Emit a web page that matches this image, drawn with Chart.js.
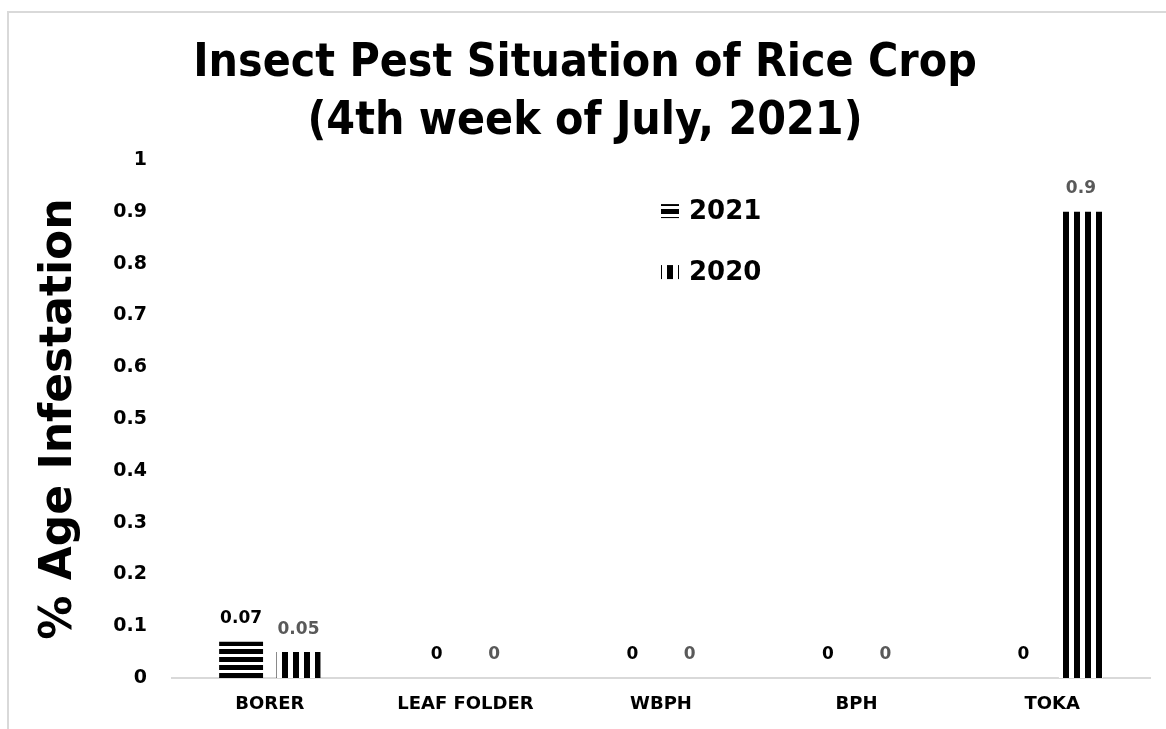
<!DOCTYPE html>
<html>
<head>
<meta charset="utf-8">
<script src="https://cdn.jsdelivr.net/npm/chart.js@4"></script>
<style>
  body { margin: 0; background: #fff; }
  #frame {
    position: absolute; left: 7px; top: 11px; width: 1300px; height: 900px;
    border-left: 2px solid #d9d9d9; border-top: 2px solid #d9d9d9;
  }
  #chart { position: absolute; left: 0; top: 0; }
</style>
</head>
<body>
<div id="frame"></div>
<canvas id="chart" width="1166" height="729"></canvas>
<script>
const categories = ["BORER", "LEAF FOLDER", "WBPH", "BPH", "TOKA"];
const seriesNames = ["2021", "2020"];
const values2021 = [0.07, 0, 0, 0, 0];
const values2020 = [0.05, 0, 0, 0, 0.9];
const labelColors = ["#000000", "#595959"];

// stripe fills like the excel patterns
function makePattern(horizontal) {
  const c = document.createElement("canvas");
  const ctx = c.getContext("2d");
  if (horizontal) {
    c.width = 8; c.height = 8;
    ctx.fillStyle = "#fff";
    ctx.fillRect(0, 0, 8, 8);
    ctx.fillStyle = "#000";
    ctx.fillRect(0, 1, 8, 5);
  } else {
    c.width = 11; c.height = 11;
    ctx.fillStyle = "#fff";
    ctx.fillRect(0, 0, 11, 11);
    ctx.fillStyle = "#000";
    ctx.fillRect(7, 0, 4, 11);
    ctx.fillRect(0, 0, 2, 11);
  }
  return ctx.createPattern(c, "repeat");
}
const hStripes = makePattern(true);
const vStripes = makePattern(false);
const fills = [hStripes, vStripes];

const valueLabels = {
  id: "valueLabels",
  afterDatasetsDraw(chart) {
    const ctx = chart.ctx;
    ctx.save();
    ctx.font = "bold 17px 'DejaVu Sans'";
    ctx.textAlign = "center";
    ctx.textBaseline = "middle";
    chart.data.datasets.forEach((ds, i) => {
      const meta = chart.getDatasetMeta(i);
      ctx.fillStyle = labelColors[i];
      meta.data.forEach((bar, j) => {
        ctx.fillText(String(ds.data[j]), bar.x, bar.y - 23);
      });
    });
    ctx.restore();
  }
};

const innerLegend = {
  id: "innerLegend",
  afterDraw(chart) {
    const ctx = chart.ctx;
    const area = chart.chartArea;
    ctx.save();
    ctx.font = "bold 26px 'DejaVu Sans'";
    ctx.textBaseline = "middle";
    seriesNames.forEach((name, i) => {
      const y = area.top + 51 + i * 61;
      ctx.fillStyle = fills[i];
      ctx.fillRect(area.left + 489, y - 7, 18, 14);
      ctx.fillStyle = "#000";
      ctx.fillText(name, area.left + 517, y + 1);
    });
    ctx.restore();
  }
};

const ctx = document.getElementById("chart").getContext("2d");
const myChart = new Chart(ctx, {
  type: "bar",
  data: {
    labels: categories,
    datasets: [
      {
        label: seriesNames[0],
        data: values2021,
        backgroundColor: hStripes,
        categoryPercentage: 0.587,
        barPercentage: 0.765,
      },
      {
        label: seriesNames[1],
        data: values2020,
        backgroundColor: vStripes,
        categoryPercentage: 0.587,
        barPercentage: 0.765,
      },
    ],
  },
  options: {
    responsive: false,
    animation: false,
    color: "#000",
    layout: { padding: { left: 20, right: 16, top: 0, bottom: 0 } },
    plugins: {
      legend: { display: false },
      tooltip: { enabled: false },
      title: {
        display: true,
        text: ["Insect Pest Situation of Rice Crop", "(4th week of July, 2021)"],
        color: "#000",
        font: { family: "'DejaVu Sans Condensed', 'DejaVu Sans'", size: 46, weight: "bold", lineHeight: 1.24 },
        padding: { top: 36, bottom: 10 },
      },
    },
    scales: {
      x: {
        grid: { display: false, drawTicks: false },
        border: { display: true, color: "#d9d9d9", width: 2 },
        ticks: {
          color: "#000",
          padding: 16,
          font: { family: "'DejaVu Sans'", size: 18, weight: "bold" },
        },
        afterFit: (scale) => { scale.height = 51; },
      },
      y: {
        min: 0,
        max: 1,
        grid: { display: false, drawTicks: false },
        border: { display: false },
        ticks: {
          stepSize: 0.1,
          color: "#000",
          padding: 25,
          font: { family: "'DejaVu Sans'", size: 19, weight: "bold" },
          callback: (value) => String(Math.round(value * 10) / 10),
        },
        title: {
          display: true,
          text: "% Age Infestation",
          color: "#000",
          font: { family: "'DejaVu Sans'", size: 44, weight: "bold" },
          padding: { top: 13, bottom: 0 },
        },
        afterFit: (scale) => { scale.width = 152; },
      },
    },
  },
  plugins: [valueLabels, innerLegend],
});
</script>
</body>
</html>
